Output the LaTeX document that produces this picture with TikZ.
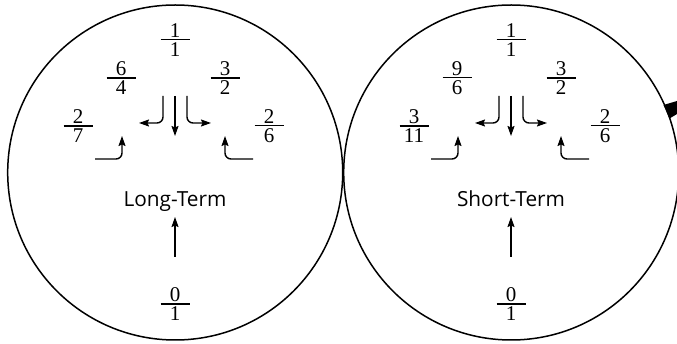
\documentclass[tikz,border=0pt]{standalone}
\usepackage{fontspec}
\newfontfamily\labfont{Open Sans}
\newfontfamily\digfont{Liberation Serif}
\usetikzlibrary{arrows.meta}
\newcommand\myfr[2]{{\digfont\fontsize{21}{21}\selectfont\vbox{\offinterlineskip\halign{\hfil##\hfil\cr\makebox[29pt]{#1}\cr\noalign{\vskip1.6pt\hrule height1.2pt\vskip1.9pt}#2\cr}}}}
\tikzset{
  frac/.style={inner sep=0pt},
  lab/.style={inner sep=0pt, anchor=base, font=\labfont\fontsize{20.8}{22}\selectfont},
  arr/.style={line width=1.4pt, -{Stealth[length=10pt,width=7pt,inset=1.5pt]}},
  ring/.style={line width=1.5pt}
}
\begin{document}
\begin{tikzpicture}[x=1pt,y=-1pt]
\useasboundingbox (0,0) rectangle (677,344);
\fill[white] (0,0) rectangle (677,344);
\foreach \p/\dx/\aa/\ab/\ba/\bb/\txt in {L/0/6/4/2/7/Long-Term, S/336/9/6/3/11/Short-Term}{
  \begin{scope}[xshift=\dx]
    \draw[ring] (175.2,172.5) circle[radius=167.5pt];
    \node[frac] (\p top) at (175,40) {\myfr{1}{1}};
    \node[frac] (\p ul) at (121,78) {\myfr{\aa}{\ab}};
    \node[frac] (\p ur) at (225,78) {\myfr{3}{2}};
    \node[frac] (\p ml) at (78,126) {\myfr{\ba}{\bb}};
    \node[frac] (\p mr) at (269,126) {\myfr{2}{6}};
    \node[frac] (\p bot) at (175,304) {\myfr{0}{1}};
    \node[lab] (\p lab) at (175,207) {\txt};
    \coordinate (\p hl0) at (163,96);  \coordinate (\p hl1) at (163,123); \coordinate (\p hl2) at (139,123);
    \coordinate (\p hr0) at (187,96);  \coordinate (\p hr1) at (187,123); \coordinate (\p hr2) at (211,123);
    \coordinate (\p c0) at (175,96);   \coordinate (\p c1) at (175,136);
    \coordinate (\p ll0) at (95,159);  \coordinate (\p ll1) at (122,159); \coordinate (\p ll2) at (122,136);
    \coordinate (\p lr0) at (253,159); \coordinate (\p lr1) at (225,159); \coordinate (\p lr2) at (225,136);
    \coordinate (\p b0) at (175,257);  \coordinate (\p b1) at (175,217);
    \draw[arr, rounded corners=6pt] (\p hl0) -- (\p hl1) -- (\p hl2);
    \draw[arr, rounded corners=6pt] (\p hr0) -- (\p hr1) -- (\p hr2);
    \draw[arr] (\p c0) -- (\p c1);
    \draw[arr, rounded corners=6pt] (\p ll0) -- (\p ll1) -- (\p ll2);
    \draw[arr, rounded corners=6pt] (\p lr0) -- (\p lr1) -- (\p lr2);
    \draw[arr] (\p b0) -- (\p b1);
  \end{scope}
}
\fill (663.5,105) -- (677,101) -- (677,114) -- (669.5,118.5) -- cycle;
\end{tikzpicture}
\end{document}
